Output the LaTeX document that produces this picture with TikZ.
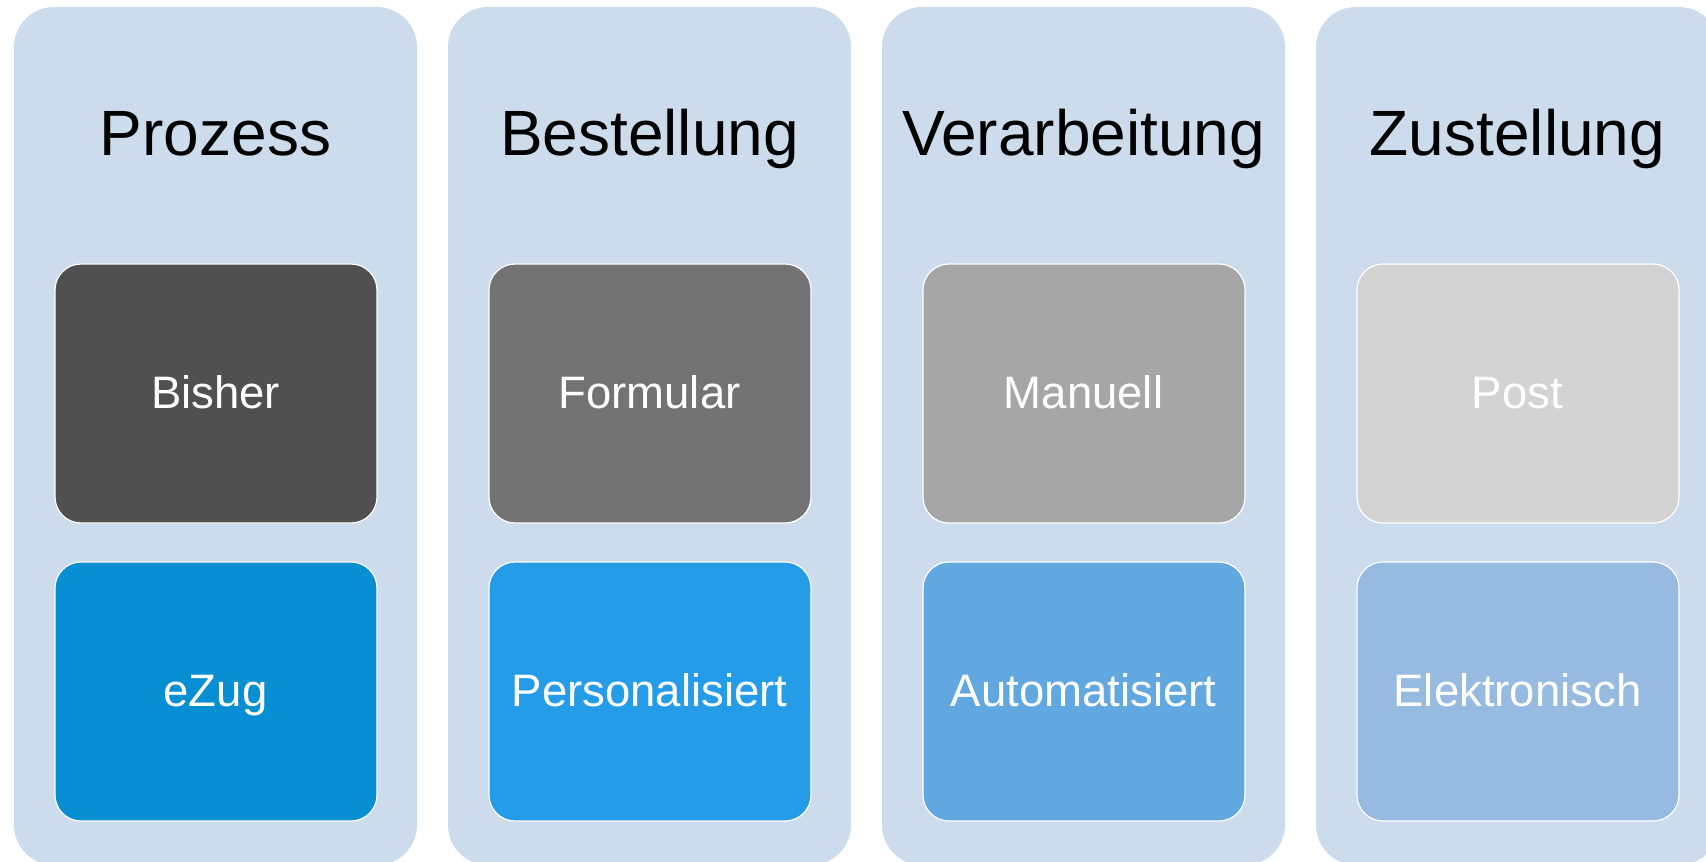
\documentclass[tikz,border=0pt]{standalone}
\usepackage{fontspec}
\setmainfont{Liberation Sans}
\definecolor{colbg}{HTML}{CCDCED}
\definecolor{cA}{HTML}{505050}
\definecolor{cB}{HTML}{737373}
\definecolor{cC}{HTML}{A6A6A6}
\definecolor{cD}{HTML}{D3D3D3}
\definecolor{cE}{HTML}{088ED3}
\definecolor{cF}{HTML}{249CE8}
\definecolor{cG}{HTML}{62A8E0}
\definecolor{cH}{HTML}{97BBE0}
\tikzset{
  colbox/.style={fill=colbg, draw=none, rounded corners=40pt},
  itembox/.style={draw=white, line width=1.2pt, rounded corners=26pt},
  title/.style={anchor=base, font=\fontsize{64}{70}\selectfont, text=black, inner sep=0pt},
  itemtext/.style={anchor=base, font=\fontsize{45.5}{50}\selectfont, text=white, inner sep=0pt},
}
\begin{document}
\begin{tikzpicture}[x=1pt,y=-1pt]
\useasboundingbox (0,0) rectangle (1706,862);
\clip (0,0) rectangle (1706,862);
\foreach \i/\ttl/\ta/\tb/\ca/\cb in {0/Prozess/Bisher/eZug/cA/cE,1/Bestellung/Formular/Personalisiert/cB/cF,2/Verarbeitung/Manuell/Automatisiert/cC/cG,3/Zustellung/Post/Elektronisch/cD/cH}{
  \pgfmathsetmacro{\xl}{14+434*\i}
  \pgfmathsetmacro{\xc}{\xl+201.5}
  \draw[colbox] (\xl,7) rectangle ++(403,858);
  \node[title] (t\i) at (\xc,155) {\ttl};
  \draw[itembox, fill=\ca] (\xl+41,264) rectangle ++(322,259);
  \node[itemtext] (a\i) at (\xc,408) {\ta};
  \draw[itembox, fill=\cb] (\xl+41,562) rectangle ++(322,259);
  \node[itemtext] (b\i) at (\xc,706) {\tb};
}
\end{tikzpicture}
\end{document}
